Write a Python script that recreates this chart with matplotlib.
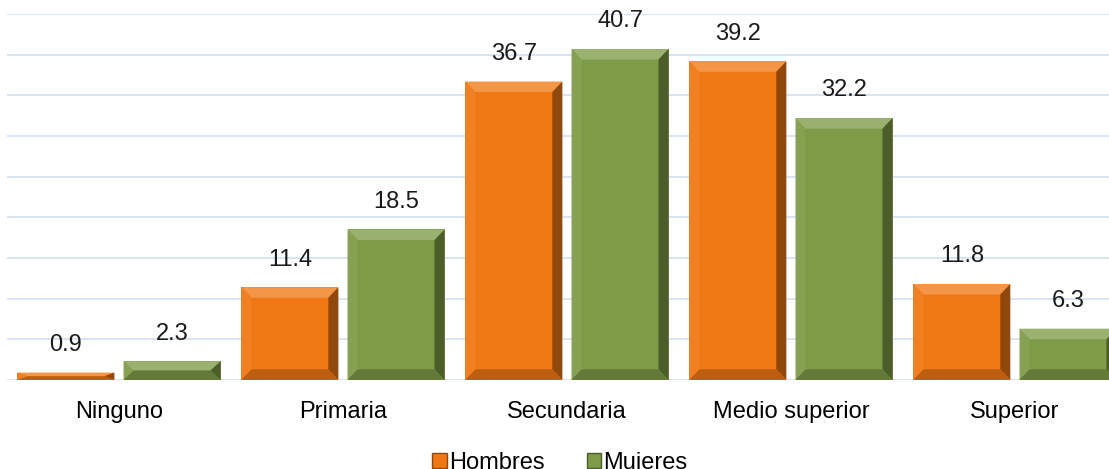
import numpy as np
import matplotlib
matplotlib.use("Agg")
import matplotlib.pyplot as plt
from matplotlib.patches import Polygon, Patch
import matplotlib.colors as mcolors

plt.rcParams['font.family'] = ['Liberation Sans', 'DejaVu Sans']

# Data
categories = ["Ninguno", "Primaria", "Secundaria", "Medio superior", "Superior"]
hombres = [0.9, 11.4, 36.7, 39.2, 11.8]
mujeres = [2.3, 18.5, 40.7, 32.2, 6.3]
series_names = ["Hombres", "Mujeres"]

orange = "#F07814"
green = "#7E9B47"
grid_color = "#D3DFEF"


def shade(color, f):
    r, g, b = mcolors.to_rgb(color)
    if f >= 0:
        return (r + (1 - r) * f, g + (1 - g) * f, b + (1 - b) * f)
    return (r * (1 + f), g * (1 + f), b * (1 + f))


def bevel(ax, bar, color, dx=0.045, dy=1.3):
    x0 = bar.get_x()
    w = bar.get_width()
    h = bar.get_height()
    x1 = x0 + w
    dyy = min(dy, h / 2.0)
    ix0, ix1 = x0 + dx, x1 - dx
    iy0, iy1 = dyy, h - dyy
    faces = [
        ([(x0, h), (x1, h), (ix1, iy1), (ix0, iy1)], shade(color, 0.22)),   # top
        ([(x0, 0), (x0, h), (ix0, iy1), (ix0, iy0)], shade(color, 0.06)),   # left
        ([(x1, 0), (x1, h), (ix1, iy1), (ix1, iy0)], shade(color, -0.40)),  # right
        ([(x0, 0), (x1, 0), (ix1, iy0), (ix0, iy0)], shade(color, -0.22)),  # bottom
    ]
    for pts, c in faces:
        ax.add_patch(Polygon(pts, closed=True, facecolor=c, edgecolor="none", zorder=3))


fig = plt.figure(figsize=(11.09, 4.69), dpi=100)
ax = fig.add_axes([0.0063, 0.19, 0.9937, 0.78])

x = np.arange(len(categories))
width = 0.433
off = 0.237

bars_h = ax.bar(x - off, hombres, width, color=orange, zorder=2)
bars_m = ax.bar(x + off, mujeres, width, color=green, zorder=2)

for bars, color, vals in [(bars_h, orange, hombres), (bars_m, green, mujeres)]:
    for b, v in zip(bars, vals):
        bevel(ax, b, color)
        ax.annotate(f"{v:.1f}", (b.get_x() + b.get_width() / 2, v),
                    xytext=(0, 12), textcoords="offset points",
                    ha="center", va="bottom", fontsize=17, color="#1a1a1a")

ax.set_xlim(-0.5, 4.42)
ax.set_ylim(0, 45)
ax.set_yticks(np.arange(0, 46, 5))
ax.yaxis.grid(True, color=grid_color, linewidth=1.2, zorder=0)
ax.set_axisbelow(True)
ax.tick_params(axis="y", left=False, labelleft=False)
ax.set_xticks(x)
ax.set_xticklabels(categories, fontsize=17)
ax.tick_params(axis="x", length=0, pad=15)
for s in ax.spines.values():
    s.set_visible(False)

handles = [Patch(facecolor=orange, edgecolor=shade(orange, -0.4)),
           Patch(facecolor=green, edgecolor=shade(green, -0.4))]
fig.legend(handles, series_names, loc="lower center", bbox_to_anchor=(0.505, -0.055),
           ncol=2, frameon=False, fontsize=17, handlelength=0.6, handleheight=0.6,
           handletextpad=0.1, columnspacing=1.8)

fig.savefig("out.png", dpi=100)
